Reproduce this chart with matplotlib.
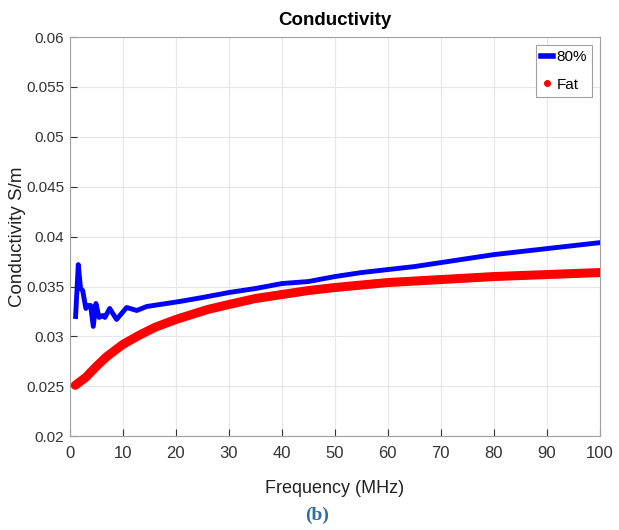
import matplotlib.pyplot as plt
from matplotlib.lines import Line2D

plt.rcParams['font.family'] = ['Liberation Sans', 'DejaVu Sans']

# blue curve (80%)
freq_80 = [1.07, 1.57, 2.0, 2.4, 3.0, 3.45, 3.9, 4.4, 4.9, 5.5, 6.2, 6.6, 7.5, 8.8,
           10.7, 12.6, 14.5, 20.7, 25, 30, 35, 40, 45, 50, 55, 60, 65, 70, 75, 80,
           85, 90, 95, 100]
cond_80 = [0.0320, 0.0372, 0.0348, 0.0346, 0.0328, 0.0331, 0.0331, 0.0310, 0.0333,
           0.0319, 0.0321, 0.0319, 0.0328, 0.0317, 0.0329, 0.0326, 0.0330, 0.0335,
           0.0339, 0.0344, 0.0348, 0.0353, 0.0355, 0.0360, 0.0364, 0.0367, 0.0370,
           0.0374, 0.0378, 0.0382, 0.0385, 0.0388, 0.0391, 0.0394]

# red curve (Fat)
freq_fat = [1, 3, 5, 7, 10, 13, 16, 20, 23, 26, 30, 35, 40, 45, 50, 60, 70, 80, 90, 100]
cond_fat = [0.0251, 0.0259, 0.0270, 0.0280, 0.0292, 0.0301, 0.0309, 0.0317, 0.0322,
            0.0327, 0.0332, 0.0338, 0.0342, 0.0346, 0.0349, 0.0354, 0.0357, 0.0360,
            0.0362, 0.0364]

fig = plt.figure(figsize=(6.19, 5.30), dpi=100)
ax = fig.add_axes([0.113, 0.177, 0.856, 0.753])

ax.plot(freq_fat, cond_fat, color='#ff0000', lw=6.5, solid_capstyle='round',
        solid_joinstyle='round', zorder=3)
ax.plot(freq_80, cond_80, color='#0000ff', lw=3.5, solid_joinstyle='round', zorder=4)

ax.set_xlim(0, 100)
ax.set_ylim(0.02, 0.06)
ax.set_xticks(range(0, 101, 10))
ax.set_yticks([0.02, 0.025, 0.03, 0.035, 0.04, 0.045, 0.05, 0.055, 0.06])
ax.set_yticklabels(['0.02', '0.025', '0.03', '0.035', '0.04', '0.045', '0.05', '0.055', '0.06'])
ax.tick_params(direction='in', length=5, colors='#333333', labelsize=12)
ax.tick_params(axis='y', pad=4, labelsize=11)
ax.tick_params(axis='x', pad=7)
ax.grid(True, color='#e6e6e6', lw=0.8)
ax.set_axisbelow(True)
for s in ax.spines.values():
    s.set_color('#a0a0a0')
    s.set_linewidth(0.8)

ax.set_title('Conductivity', fontsize=13.5, fontweight='bold', pad=9)
ax.set_xlabel('Frequency (MHz)', fontsize=13, color='#222222', labelpad=14)
ax.set_ylabel('Conductivity S/m', fontsize=13.5, color='#222222')
ax.yaxis.set_label_coords(-0.083, 0.5)

handles = [Line2D([], [], color='#0000ff', lw=4),
           Line2D([], [], color='#ff0000', ls='none', marker='.', markersize=8)]
leg = ax.legend(handles, ['80%', 'Fat'], loc='upper right', fontsize=11,
                handlelength=0.8, handletextpad=0.2, borderpad=0.35,
                labelspacing=0.9, fancybox=False, framealpha=1,
                borderaxespad=0.5, edgecolor='#a0a0a0')
leg.get_frame().set_linewidth(0.8)

fig.text(0.512, 0.028, '(b)', fontsize=14, fontweight='bold', color='#2e6da8',
         family=['Liberation Serif', 'DejaVu Serif'], ha='center', va='center')

fig.savefig('out.png', dpi=100)
